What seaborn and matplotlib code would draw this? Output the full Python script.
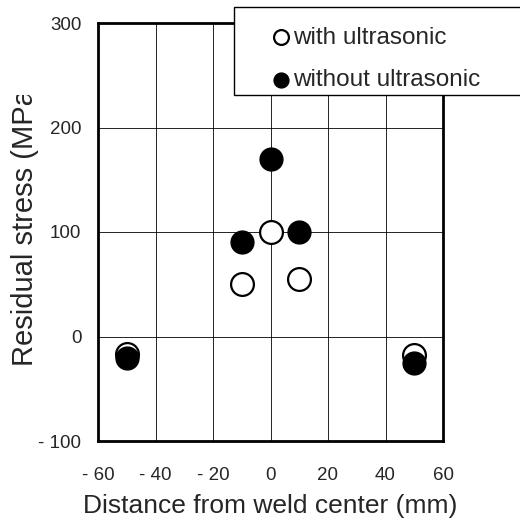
import pandas as pd
import matplotlib
matplotlib.use('Agg')
import matplotlib.pyplot as plt
import seaborn as sns
from matplotlib.patches import Rectangle

# data
distance = [-50, -10, 0, 10, 50]
with_ultrasonic = [-17, 50, 100, 55, -18]
without_ultrasonic = [-21, 90, 170, 100, -25]

x_ticks = [-60, -40, -20, 0, 20, 40, 60]
x_tick_labels = ['- 60', '- 40', '- 20', '0', '20', '40', '60']
y_ticks = [-100, 0, 100, 200, 300]
y_tick_labels = ['- 100', '0', '100', '200', '300']

df = pd.DataFrame({
    'Distance': distance * 2,
    'Stress': with_ultrasonic + without_ultrasonic,
    'Group': ['with ultrasonic'] * 5 + ['without ultrasonic'] * 5,
})

sns.set_style('white')
plt.rcParams['font.family'] = ['Liberation Sans', 'DejaVu Sans']

fig = plt.figure(figsize=(5.2, 5.2), dpi=100)
ax = fig.add_axes([98 / 520, 1 - 441 / 520, 345 / 520, 418 / 520])

# open circles first, filled ones on top
sns.scatterplot(data=df[df['Group'] == 'with ultrasonic'], x='Distance', y='Stress',
                ax=ax, s=270, facecolor='white', edgecolor='black', linewidth=1.6,
                label='with ultrasonic', zorder=3)
sns.scatterplot(data=df[df['Group'] == 'without ultrasonic'], x='Distance', y='Stress',
                ax=ax, s=270, color='black', edgecolor='black', linewidth=1.0,
                label='without ultrasonic', zorder=4)

ax.set_xlim(-60, 60)
ax.set_ylim(-100, 300)
ax.set_xticks(x_ticks)
ax.set_xticklabels(x_tick_labels, fontsize=13.5)
ax.set_yticks(y_ticks)
ax.set_yticklabels(y_tick_labels, fontsize=13.5)
ax.tick_params(axis='y', length=3, width=1, color='black', pad=9)
ax.tick_params(axis='x', length=0, pad=19)
ax.grid(True, color='black', linewidth=0.6)
for sp in ax.spines.values():
    sp.set_visible(True)
    sp.set_color('black')
    sp.set_linewidth(2)

ax.set_xlabel('Distance from weld center (mm)', fontsize=19, labelpad=7)
ax.set_ylabel('Residual stress (MPa)', fontsize=21)
ax.yaxis.set_label_coords(-0.172, 0.523)

# the y label is cut off near the top in the original
fig.patches.append(Rectangle((0, 1 - 95 / 520), 44 / 520, 95 / 520,
                             transform=fig.transFigure, facecolor='white',
                             edgecolor='none', zorder=5))

# legend box running off the right edge
fig.patches.append(Rectangle((234 / 520, 1 - 95 / 520), 0.6, 88 / 520,
                             transform=fig.transFigure, facecolor='white',
                             edgecolor='black', linewidth=1.0, zorder=5))
leg = ax.legend(loc='upper left', bbox_to_anchor=(259 / 520, 1 - 17 / 520),
                bbox_transform=fig.transFigure, frameon=False, fontsize=17.5,
                markerscale=0.65, handletextpad=0.0, handlelength=1.0,
                labelspacing=0.85, borderaxespad=0)
leg.set_zorder(10)
fig.legends.append(leg)
ax.get_legend().remove()

fig.savefig('out.png', dpi=100)
